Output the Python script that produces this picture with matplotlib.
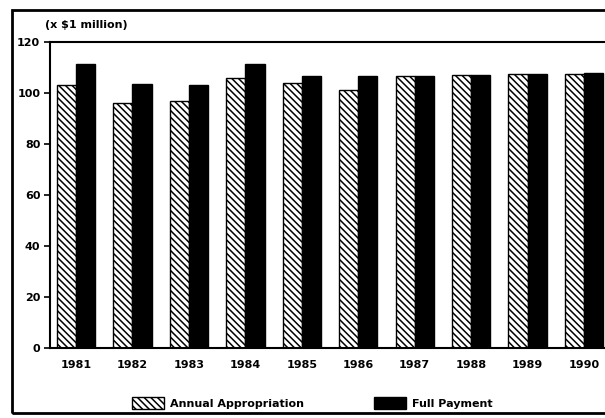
import numpy as np
import matplotlib.pyplot as plt
from matplotlib.patches import Rectangle

# data (x $1 million)
years = ['1981', '1982', '1983', '1984', '1985', '1986', '1987', '1988', '1989', '1990']
annual_appropriation = [103, 96, 97, 106, 104, 101, 106.5, 107, 107.3, 107.6]
full_payment = [111.2, 103.5, 103, 111.2, 106.5, 106.5, 106.8, 107, 107.3, 107.8]
y_ticks = [0, 20, 40, 60, 80, 100, 120]

plt.rcParams['font.family'] = ['DejaVu Sans']
plt.rcParams['hatch.linewidth'] = 1.1

fig = plt.figure(figsize=(6.05, 4.18), dpi=100)
ax = fig.add_axes([50 / 605, 70 / 418, 1 - 50 / 605, 306 / 418])

x = np.arange(len(years))
w = 0.34
ax.bar(x - w / 2, annual_appropriation, w, color='white', edgecolor='black',
       hatch='\\\\\\\\\\', linewidth=1.0, label='Annual Appropriation')
ax.bar(x + w / 2, full_payment, w, color='black', edgecolor='black',
       linewidth=1.0, label='Full Payment')

ax.set_xlim(-0.46, 9.37)
ax.set_ylim(0, 120)
ax.set_yticks(y_ticks)
ax.set_xticks(x)
ax.set_xticklabels(years, fontsize=8, fontweight='bold')
ax.tick_params(axis='x', length=0, pad=9)
ax.tick_params(axis='y', length=4, width=1.2, direction='out', labelsize=8, pad=3)
for lab in ax.get_yticklabels():
    lab.set_fontweight('bold')
ax.spines['right'].set_visible(False)
for s in ['left', 'bottom', 'top']:
    ax.spines[s].set_linewidth(1.5)

fig.text(45 / 605, 1 - 25 / 418, '(x $1 million)', fontsize=8, fontweight='bold',
         va='center', ha='left')

# outer frame
fig.patches.append(Rectangle((12 / 605, 5 / 418), 1.0, 403 / 418, transform=fig.transFigure,
                             fill=False, edgecolor='black', linewidth=2.0))

leg = fig.legend(loc='center', bbox_to_anchor=(0.516, 1 - 403 / 418), ncol=2, frameon=False,
                 fontsize=8, handlelength=2.9, handleheight=1.3, columnspacing=6.3,
                 handletextpad=0.55)
for t in leg.get_texts():
    t.set_fontweight('bold')

fig.savefig('out.png', dpi=100)
